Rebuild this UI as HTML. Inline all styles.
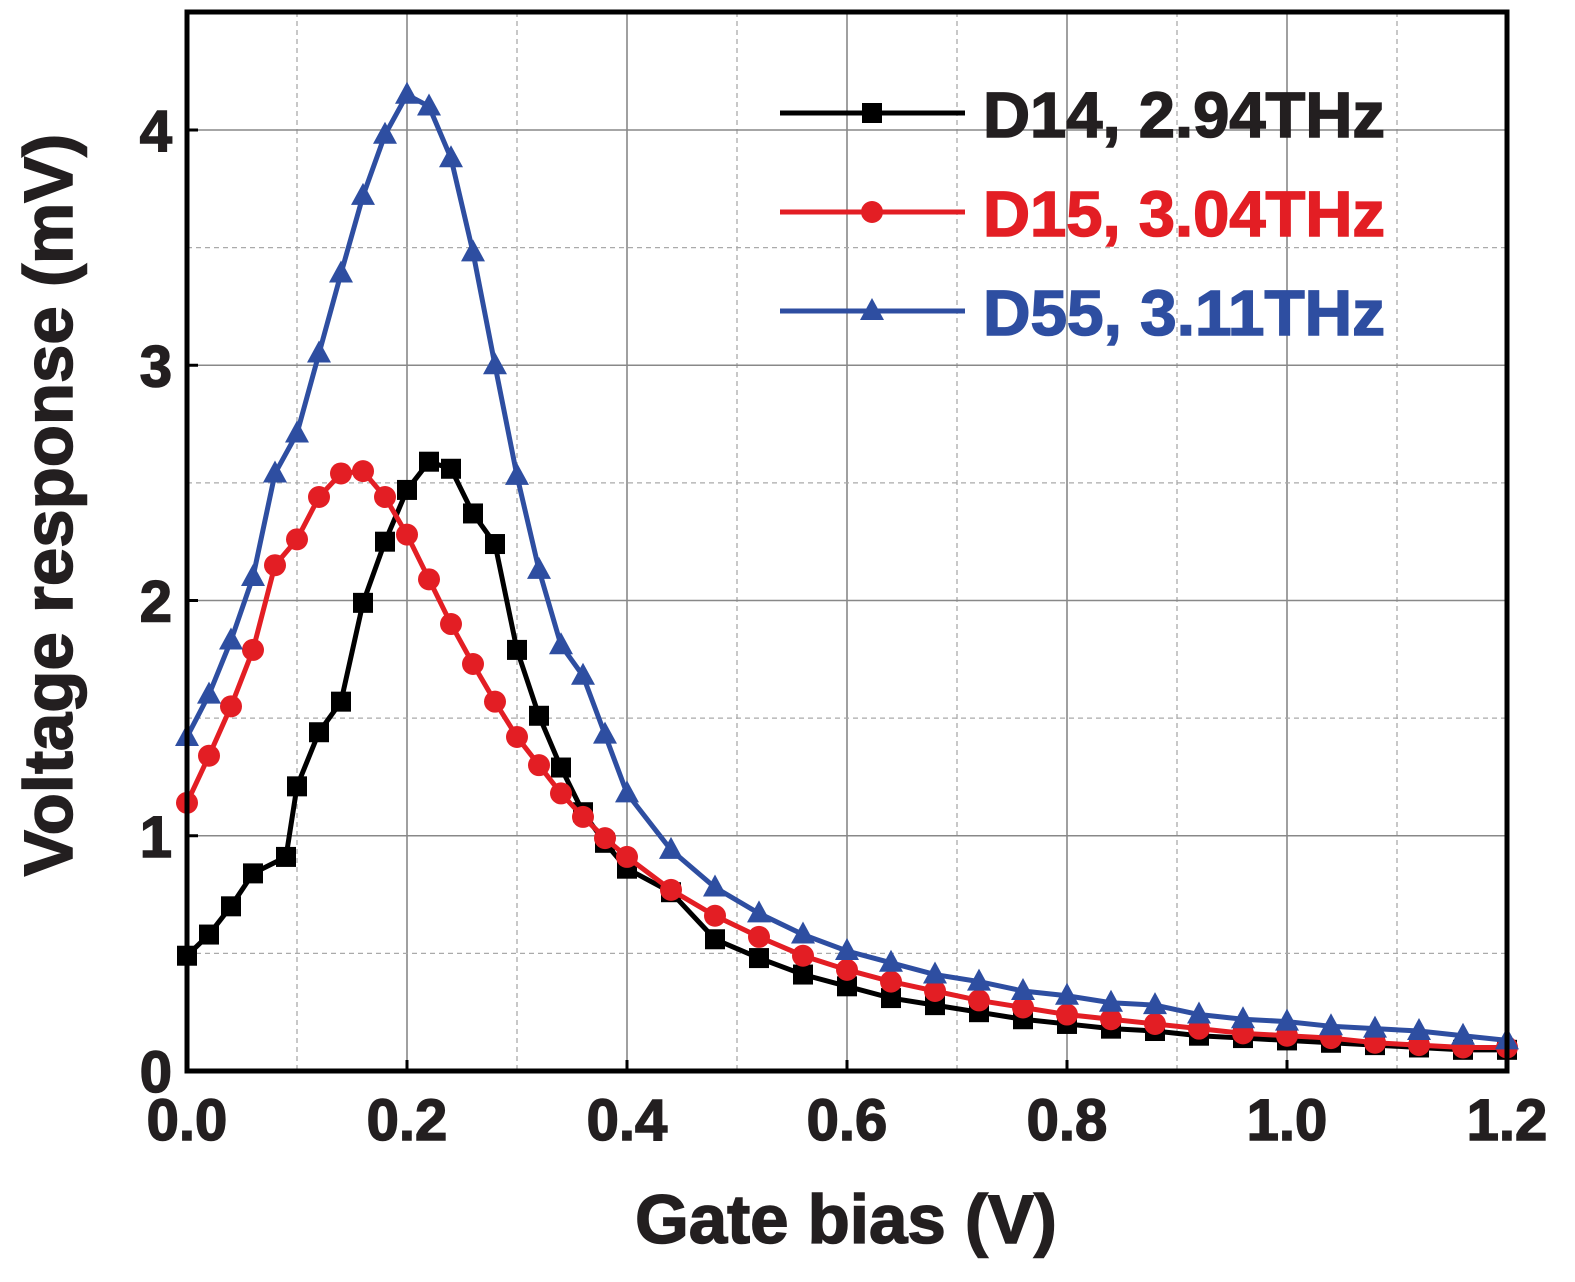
<!DOCTYPE html>
<html><head><meta charset="utf-8"><style>
body{margin:0;background:#fff}
svg{display:block;font-family:"Liberation Sans",sans-serif;font-weight:bold}
</style></head><body>
<svg id="chart" width="1575" height="1282" viewBox="0 0 1575 1282">
<g id="grid"></g>
<g id="series"></g>
<rect x="187" y="12" width="1320" height="1059" fill="none" stroke="#000" stroke-width="5"/>
<g id="ticks"></g>
<text x="846" y="1243" font-size="69" text-anchor="middle" fill="#231f20" stroke="#231f20" stroke-width="1.5">Gate bias (V)</text>
<text transform="translate(72,505) rotate(-90)" font-size="69" text-anchor="middle" fill="#231f20" stroke="#231f20" stroke-width="1.5">Voltage response (mV)</text>
<g id="legend"></g>
</svg>
<script>
const xBlack=[0,0.02,0.04,0.06,0.09,0.10,0.12,0.14,0.16,0.18,0.20,0.22,0.24,0.26,0.28,0.30,0.32,0.34,0.36,0.38,0.40,0.44,0.48,0.52,0.56,0.60,0.64,0.68,0.72,0.76,0.80,0.84,0.88,0.92,0.96,1.00,1.04,1.08,1.12,1.16,1.20];
const yBlack=[0.49,0.58,0.70,0.84,0.91,1.21,1.44,1.57,1.99,2.25,2.47,2.59,2.56,2.37,2.24,1.79,1.51,1.29,1.10,0.97,0.86,0.76,0.56,0.48,0.41,0.36,0.31,0.28,0.25,0.22,0.20,0.18,0.17,0.15,0.14,0.13,0.12,0.11,0.10,0.09,0.09];
const xRed=[0,0.02,0.04,0.06,0.08,0.10,0.12,0.14,0.16,0.18,0.20,0.22,0.24,0.26,0.28,0.30,0.32,0.34,0.36,0.38,0.40,0.44,0.48,0.52,0.56,0.60,0.64,0.68,0.72,0.76,0.80,0.84,0.88,0.92,0.96,1.00,1.04,1.08,1.12,1.16,1.20];
const yRed=[1.14,1.34,1.55,1.79,2.15,2.26,2.44,2.54,2.55,2.44,2.28,2.09,1.90,1.73,1.57,1.42,1.30,1.18,1.08,0.99,0.91,0.77,0.66,0.57,0.49,0.43,0.38,0.34,0.30,0.27,0.24,0.22,0.20,0.18,0.16,0.15,0.14,0.12,0.11,0.10,0.10];
const xBlue=xRed;
const yBlue=[1.42,1.60,1.83,2.10,2.54,2.71,3.05,3.39,3.72,3.98,4.15,4.10,3.88,3.48,3.00,2.53,2.13,1.81,1.68,1.43,1.18,0.94,0.78,0.67,0.58,0.51,0.46,0.41,0.38,0.34,0.32,0.29,0.28,0.24,0.22,0.21,0.19,0.18,0.17,0.15,0.13];
const xTicks=["0.0","0.2","0.4","0.6","0.8","1.0","1.2"];
const yTicks=["0","1","2","3","4"];
const legendLabels=["D14, 2.94THz","D15, 3.04THz","D55, 3.11THz"];

const NS="http://www.w3.org/2000/svg";
const X=v=>187+v*1100, Y=v=>1071-v*235.25;
function mk(t,a,p){const e=document.createElementNS(NS,t);for(const k in a)e.setAttribute(k,a[k]);p.appendChild(e);return e;}
const grid=document.getElementById('grid'),ticks=document.getElementById('ticks'),ser=document.getElementById('series'),leg=document.getElementById('legend');
for(let i=1;i<12;i++){const x=X(i*0.1);const l=mk('line',{x1:x,x2:x,y1:12,y2:1071,stroke:i%2?'#aaa':'#888','stroke-width':i%2?1.3:1.6,'stroke-dasharray':i%2?'5,4':''},grid);

}
for(let i=1;i<9;i++){const y=Y(i*0.5);const l=mk('line',{x1:187,x2:1507,y1:y,y2:y,stroke:i%2?'#aaa':'#888','stroke-width':i%2?1.3:1.6,'stroke-dasharray':i%2?'5,4':''},grid);

}
xTicks.forEach(s=>{const v=parseFloat(s);const t=mk('text',{x:X(v),y:1140,'font-size':58,'text-anchor':'middle',fill:'#231f20',stroke:'#231f20','stroke-width':1.5},ticks);t.textContent=s;


const m=mk('line',{x1:X(v),x2:X(v),y1:1071,y2:1060,stroke:'#000','stroke-width':3},ticks);

});
yTicks.forEach(s=>{const v=parseFloat(s);const t=mk('text',{x:172,y:Y(v)+21,'font-size':58,'text-anchor':'end',fill:'#231f20',stroke:'#231f20','stroke-width':1.5},ticks);t.textContent=s;


const m=mk('line',{x1:187,x2:198,y1:Y(v),y2:Y(v),stroke:'#000','stroke-width':3},ticks);

});
function marker(type,cx,cy,c,p){let e;
if(type==='sq')e=mk('rect',{x:cx-10,y:cy-10,width:20,height:20,fill:c},p);
else if(type==='ci')e=mk('circle',{cx:cx,cy:cy,r:11,fill:c},p);
else e=mk('polygon',{points:`${cx},${cy-13} ${cx-12},${cy+9} ${cx+12},${cy+9}`,fill:c},p);
return e;}
const defs=[[xBlack,yBlack,'#000','sq','d14'],[xRed,yRed,'#e31e24','ci','d15'],[xBlue,yBlue,'#2e4ea1','tr','d55']];
defs.forEach(([xs,ys,c,m,n])=>{const g=mk('g',{},ser);


const pl=mk('polyline',{points:xs.map((x,i)=>X(x)+','+Y(ys[i])).join(' '),fill:'none',stroke:c,'stroke-width':5},g);


xs.forEach((x,i)=>{const e=marker(m,X(x),Y(ys[i]),c,g);

});});
legendLabels.forEach((s,i)=>{const [,,c,m,n]=defs[i];const y=113+i*99;const g=mk('g',{},leg);


mk('line',{x1:780,x2:965,y1:y,y2:y,stroke:c,'stroke-width':5},g);
marker(m,872,y,c,g);
const col=i===0?'#231f20':c;
const t=mk('text',{x:983,y:y+24,'font-size':64,fill:col,stroke:col,'stroke-width':1.5,textLength:402,lengthAdjust:'spacingAndGlyphs'},g);t.textContent=s;

});
</script>
</body></html>
